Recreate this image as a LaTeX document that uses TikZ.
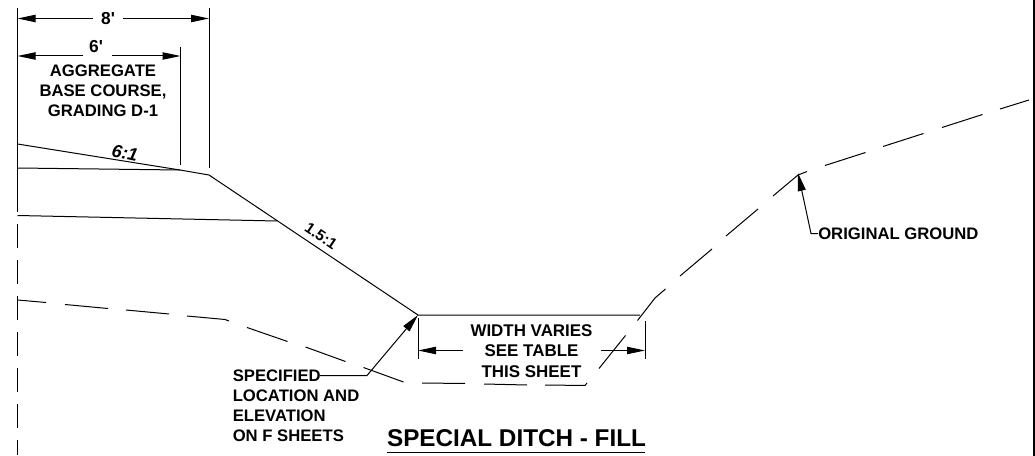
\documentclass[tikz,border=0pt]{standalone}
\usepackage{fontspec}
\setmainfont{Liberation Sans}
\newfontfamily\plainf{Liberation Sans}
\usetikzlibrary{arrows.meta}
\tikzset{
  x=0.75pt,y=-0.75pt,
  ln/.style={line width=0.75pt,black},
  dim/.style={line width=0.75pt,black,-{Triangle[length=13.5pt,width=5.5pt]}},
  lead/.style={line width=0.75pt,black,-{Triangle[length=13.5pt,width=6pt]}},
  lbl/.style={font=\bfseries\fontsize{12.5}{15}\selectfont,inner sep=0pt,align=center},
  lbll/.style={font=\bfseries\fontsize{12.5}{15}\selectfont,inner sep=0pt,align=left},
}
\begin{document}
\begin{tikzpicture}
\useasboundingbox (0,0) rectangle (1035,456);
% coordinates
\coordinate (cT) at (17.5,8);
\coordinate (cB) at (17.5,212);
\coordinate (a1) at (17.5,144);
\coordinate (a2) at (180,170);
\coordinate (a3) at (209,175);
\coordinate (b1) at (17.5,168);
\coordinate (c1) at (17.5,215.5);
\coordinate (c2) at (277,221);
\coordinate (t1) at (418,315);
\coordinate (t2) at (640,315);
% centre line
\draw[ln,line width=1pt] (cT)--(cB);
\foreach \a/\b in {224/248,260/284,296/320,332/356,368/392,404/428,440/455}
  \draw[ln] (17.5,\a)--(17.5,\b);
% right border
\draw[line width=1.5pt] (1034,0)--(1034,456);
% section
\draw[ln] (a1)--(a2)--(a3)--(t1)--(t2);
\draw[ln] (b1)--(a2);
\draw[ln] (c1)--(c2);
% upper dims
\coordinate (e8) at (209,8);
\coordinate (e8b) at (209,168);
\coordinate (e6) at (180.5,47);
\coordinate (e6b) at (180.5,165);
\draw[ln] (e8)--(e8b);
\draw[ln] (e6)--(e6b);
\node[lbl,font=\plainf\bfseries\fontsize{13}{15}\selectfont] (d8) at (108,19) {8'};
\node[lbl,font=\plainf\bfseries\fontsize{13}{15}\selectfont] (d6) at (96,47) {6'};
\coordinate (l8) at (17.5,18.5);\coordinate (r8) at (209,18.5);
\coordinate (l6) at (17.5,56);\coordinate (r6) at (180.5,56);
\coordinate (m8a) at (93,18.5);\coordinate (m8b) at (123,18.5);
\coordinate (m6a) at (83,56);\coordinate (m6b) at (112,56);
\draw[dim] (m8a)--(l8);
\draw[dim] (m8b)--(r8);
\draw[dim] (m6a)--(l6);
\draw[dim] (m6b)--(r6);
\node[lbl] (agg) at (103,91) {AGGREGATE\\BASE COURSE,\\GRADING D-1};
\node[lbl,rotate=-12,font=\bfseries\itshape\fontsize{13.5}{15}\selectfont] (s6) at (125,153) {6:1};
\node[lbl,rotate=-34,font=\bfseries\fontsize{11.5}{13}\selectfont] (s15) at (321,236) {1.5:1};
% subgrade dashed
\draw[ln] (17.5,300)--(46,302.5);
\draw[ln] (65,304.5)--(108,308.5);
\draw[ln] (126,310)--(169,314);
\draw[ln] (187,316)--(225,319.5)--(229,321);
\draw[ln] (247,327.5)--(287.5,341.5);
\draw[ln] (305.5,347)--(345.5,361.5);
\draw[ln] (363.5,367.5)--(403.5,382);
\draw[ln] (422,383)--(465,383.5);
\draw[ln] (484,384)--(527,385);
\draw[ln] (545,385)--(585,385.5)--(587,383);
\draw[ln] (599,368.5)--(625.5,335.5);
% original ground dashed
\draw[ln] (637.5,320.5)--(655,298)--(665.5,289);
\draw[ln] (680,276)--(712,249);
\draw[ln] (726,236)--(758,209);
\draw[ln] (773,196)--(798,175)--(807,171.5);
\draw[ln] (825,165.5)--(865.5,152.5);
\draw[ln] (883,146.5)--(923.5,133.5);
\draw[ln] (942,127.5)--(982.5,114.5);
\draw[ln] (1000,109)--(1029,100);
% width dim
\coordinate (wl) at (418,318);\coordinate (wlb) at (418,359);
\coordinate (wr) at (645,321);\coordinate (wrb) at (645,359);
\draw[ln] (wl)--(wlb);
\draw[ln] (wr)--(wrb);
\node[lbl,font=\bfseries\fontsize{12.7}{15.4}\selectfont] (wv) at (531.5,351) {WIDTH VARIES\\SEE TABLE\\THIS SHEET};
\coordinate (wa) at (463,350.5);\coordinate (wae) at (418,350.5);
\coordinate (wb) at (601,350.5);\coordinate (wbe) at (645,350.5);
\draw[dim] (wa)--(wae);
\draw[dim] (wb)--(wbe);
% leader 1
\node[lbll,anchor=north west] (spec) at (232.5,369.5) {SPECIFIED\\LOCATION AND\\ELEVATION\\ON F SHEETS};
\coordinate (sp1) at (320,375.5);\coordinate (sp2) at (367,375.5);\coordinate (sp3) at (418,315);
\draw[lead] (sp1)--(sp2)--(sp3);
% leader 2
\node[lbl,anchor=west] (og) at (818,233.5) {ORIGINAL GROUND};
\coordinate (og1) at (818,233.5);\coordinate (og2) at (811,233.5);\coordinate (og3) at (798,173);
\draw[lead] (og1)--(og2)--(og3);
% title
\node[lbl,font=\bfseries\fontsize{18.2}{20}\selectfont] (ti) at (516.5,438.5) {SPECIAL DITCH - FILL};
\coordinate (u1) at (387,452.5);\coordinate (u2) at (645,452.5);
\draw[line width=1.1pt] (u1)--(u2);
\end{tikzpicture}
\end{document}
